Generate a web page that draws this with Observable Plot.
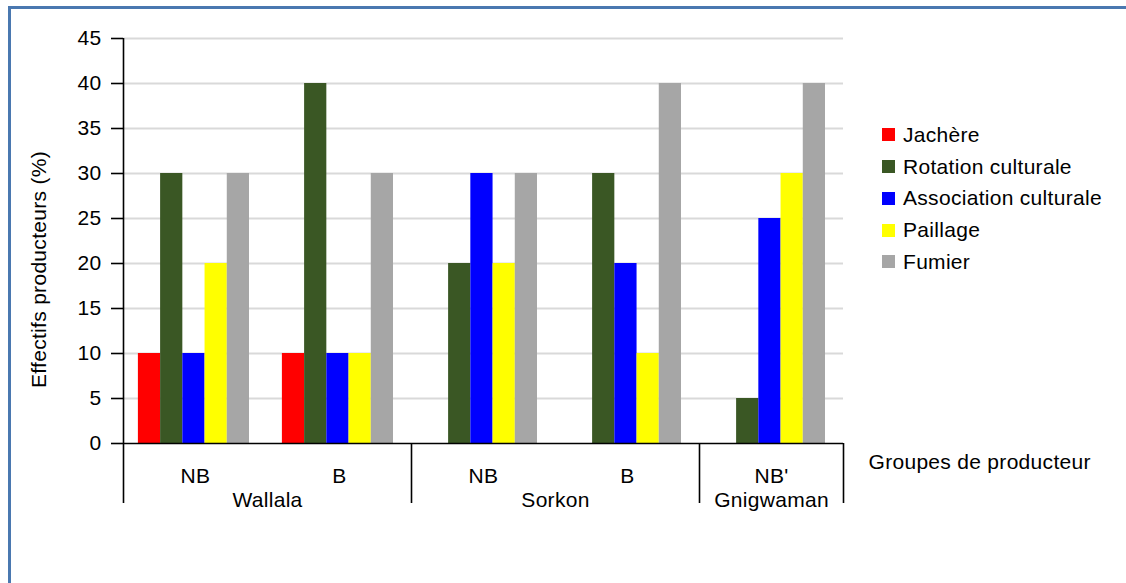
<!DOCTYPE html>
<html><head><meta charset="utf-8">
<script src="https://cdn.jsdelivr.net/npm/d3@7"></script>
<script src="https://cdn.jsdelivr.net/npm/@observablehq/plot@0.6"></script>
<style>
html,body{margin:0;padding:0;background:#fff;}
#wrap{position:relative;width:1126px;height:583px;overflow:hidden;font-family:"Liberation Sans",Arial,sans-serif;}
#chart{position:absolute;left:0;top:0;}
#border{position:absolute;left:8px;top:6px;width:1200px;height:700px;border-left:3px solid #4a78b0;border-top:3px solid #4a78b0;box-sizing:border-box;pointer-events:none;}
#legend{position:absolute;left:882px;top:119px;font-size:21px;letter-spacing:0.3px;color:#000;}
.row{display:flex;align-items:center;height:31.75px;white-space:nowrap;}
.sw{width:13px;height:13px;margin-right:8px;flex:none;}
svg g[aria-label="y-axis tick"] path{stroke-width:1.6px;}
</style></head>
<body>
<div id="wrap"><div id="chart"></div><div id="border"></div><div id="legend"></div></div>
<script>
// ---- data ----
const groups = ["Wallala", "Wallala", "Sorkon", "Sorkon", "Gnigwaman"];
const subgroups = ["NB", "B", "NB", "B", "NB'"];
const series = ["Jachère", "Rotation culturale", "Association culturale", "Paillage", "Fumier"];
const colors = ["#ff0000", "#3a5724", "#0000ff", "#ffff00", "#a6a6a6"];
const jachere = [10, 10, 0, 0, 0];
const rotation = [30, 40, 20, 30, 5];
const association = [10, 10, 30, 20, 25];
const paillage = [20, 10, 20, 10, 30];
const fumier = [30, 30, 30, 40, 40];
const yTicks = [0, 5, 10, 15, 20, 25, 30, 35, 40, 45];
const yLabel = "Effectifs producteurs (%)";
const xLabel = "Groupes de producteur";

// ---- build table ----
const values = [jachere, rotation, association, paillage, fumier];
const keys = groups.map((g, i) => g + " " + subgroups[i]);
const rows = [];
keys.forEach((k, i) => series.forEach((s, j) => rows.push({key: k, series: s, idx: j, value: values[j][i]})));
const cats = keys.map((k, i) => ({key: k, sub: subgroups[i]}));

const xDomain = [-0.67, 5.81];
const xMid = (xDomain[0] + xDomain[1]) / 2;
const yMax = yTicks[yTicks.length - 1];

// group starts & separators
const groupStarts = [];
keys.forEach((k, i) => { if (i === 0 || groups[i] !== groups[i - 1]) groupStarts.push({key: k, name: groups[i], count: groups.filter(g => g === groups[i]).length}); });
const bounds = groupStarts.map((g, i) => ({key: g.key, x: xDomain[0], top: i === 0 ? yMax : 0}));
bounds.push({key: keys[keys.length - 1], x: xDomain[1], top: 0});
const groupLabels = groupStarts.map(g => ({key: g.key, name: g.name, x: xDomain[0] + g.count * (xDomain[1] - xDomain[0]) / 2}));

const chart = Plot.plot({
  width: 1126,
  height: 583,
  marginLeft: 122,
  marginRight: 283,
  marginTop: 38,
  marginBottom: 140,
  style: {fontFamily: "Liberation Sans, Arial, sans-serif", fontSize: "21px", letterSpacing: "0.3px", color: "#000", background: "transparent"},
  fx: {domain: keys, padding: 0, axis: null},
  x: {domain: xDomain, axis: null},
  y: {domain: [0, yMax], ticks: yTicks, tickSize: 12, tickPadding: 10, label: null},
  color: {domain: series, range: colors},
  marks: [
    Plot.ruleY(yTicks.filter(v => v > 0), {stroke: "#d9d9d9", strokeWidth: 2}),
    Plot.rectY(rows, {fx: "key", x1: "idx", x2: d => d.idx + 1, y: "value", fill: "series"}),
    Plot.ruleY([0], {stroke: "#000", strokeWidth: 1.6}),
    Plot.ruleX(bounds, {fx: "key", x: "x", y1: () => 0, y2: "top", insetTop: 60, stroke: "#000", strokeWidth: 1.6}),
    Plot.text(cats, {fx: "key", x: () => xMid, text: "sub", frameAnchor: "bottom", lineAnchor: "top", dy: 25}),
    Plot.text(groupLabels, {fx: "key", x: "x", text: "name", frameAnchor: "bottom", lineAnchor: "top", dy: 49}),
    Plot.text([{key: keys[0], t: yLabel}], {fx: "key", text: "t", frameAnchor: "left", textAnchor: "middle", rotate: -90, dx: -84, dy: 28.5, lineAnchor: "middle", letterSpacing: "0.45px"}),
    Plot.text([{key: keys[keys.length - 1], t: xLabel}], {fx: "key", x: () => xDomain[1], text: "t", frameAnchor: "bottom", textAnchor: "start", lineAnchor: "middle", dx: 25, dy: 19})
  ]
});
document.getElementById("chart").appendChild(chart);

// legend
const legend = document.getElementById("legend");
series.forEach((s, i) => {
  const row = document.createElement("div");
  row.className = "row";
  const sw = document.createElement("span");
  sw.className = "sw";
  sw.style.background = colors[i];
  const t = document.createElement("span");
  t.textContent = s;
  row.appendChild(sw); row.appendChild(t);
  legend.appendChild(row);
});
</script>
</body></html>
